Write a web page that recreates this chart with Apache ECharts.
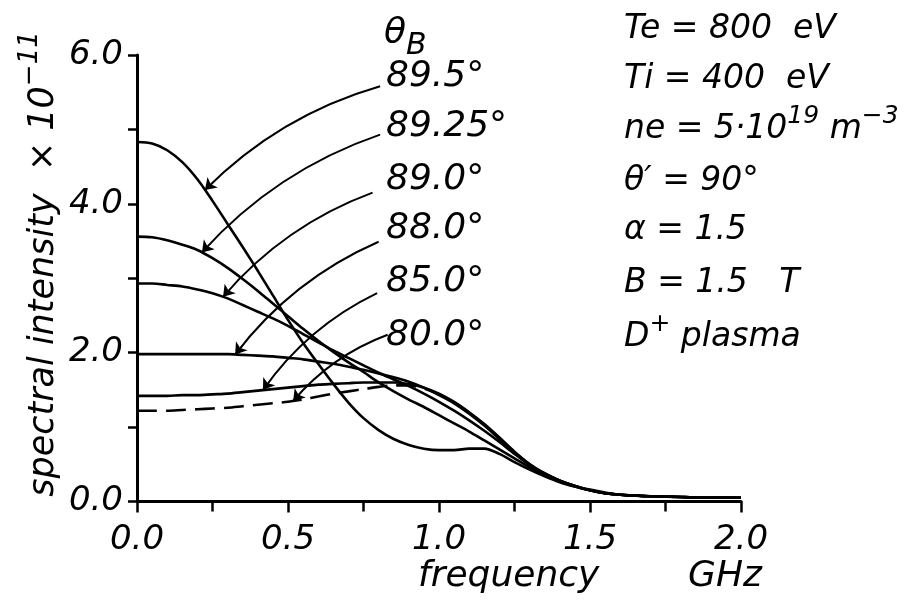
<!DOCTYPE html>
<html>
<head>
<meta charset="utf-8">
<script src="https://cdn.jsdelivr.net/npm/echarts@6/dist/echarts.min.js"></script>
<style>
  html, body { margin: 0; padding: 0; background: #fff; }
  #chart { width: 908px; height: 600px; }
</style>
</head>
<body>
<div id="chart"></div>
<script>
// Frequency grid (GHz)
const freq = [0.00, 0.05, 0.10, 0.15, 0.20, 0.25, 0.30, 0.35, 0.40, 0.45,
              0.50, 0.55, 0.60, 0.65, 0.70, 0.75, 0.80, 0.85, 0.90, 0.95,
              1.00, 1.05, 1.10, 1.15, 1.20, 1.25, 1.30, 1.35, 1.40, 1.45,
              1.50, 1.55, 1.60, 1.70, 1.80, 1.90, 2.00];

// Spectral intensity (x 10^-11) for each magnetic field angle
const theta895 = [4.83, 4.81, 4.72, 4.56, 4.33, 4.04, 3.73, 3.42, 3.10, 2.77,
                  2.44, 2.13, 1.85, 1.58, 1.33, 1.12, 0.96, 0.84, 0.76, 0.71,
                  0.69, 0.69, 0.71, 0.71, 0.64, 0.53, 0.43, 0.34, 0.26, 0.20,
                  0.15, 0.11, 0.09, 0.07, 0.06, 0.05, 0.05];
const theta8925 = [3.56, 3.55, 3.51, 3.45, 3.38, 3.27, 3.14, 2.99, 2.83, 2.66,
                   2.49, 2.32, 2.16, 2.01, 1.87, 1.74, 1.60, 1.48, 1.37, 1.27,
                   1.16, 1.05, 0.94, 0.82, 0.70, 0.58, 0.46, 0.36, 0.27, 0.20,
                   0.15, 0.11, 0.09, 0.07, 0.06, 0.05, 0.05];
const theta890 = [2.93, 2.93, 2.91, 2.89, 2.85, 2.80, 2.73, 2.64, 2.55, 2.46,
                  2.36, 2.25, 2.14, 2.03, 1.93, 1.83, 1.73, 1.64, 1.55, 1.45,
                  1.34, 1.22, 1.09, 0.95, 0.80, 0.64, 0.49, 0.37, 0.28, 0.21,
                  0.15, 0.11, 0.09, 0.07, 0.06, 0.05, 0.05];
const theta880 = [1.98, 1.98, 1.98, 1.98, 1.98, 1.98, 1.98, 1.97, 1.96, 1.95,
                  1.93, 1.91, 1.88, 1.85, 1.81, 1.77, 1.72, 1.67, 1.61, 1.53,
                  1.43, 1.32, 1.18, 1.02, 0.84, 0.66, 0.50, 0.38, 0.28, 0.21,
                  0.16, 0.12, 0.09, 0.07, 0.06, 0.05, 0.05];
const theta850 = [1.42, 1.42, 1.42, 1.43, 1.43, 1.44, 1.45, 1.47, 1.49, 1.51,
                  1.53, 1.55, 1.57, 1.58, 1.59, 1.60, 1.60, 1.60, 1.58, 1.53,
                  1.45, 1.34, 1.20, 1.04, 0.86, 0.67, 0.50, 0.37, 0.28, 0.21,
                  0.15, 0.11, 0.09, 0.07, 0.06, 0.05, 0.05];
const theta800 = [1.22, 1.22, 1.22, 1.23, 1.24, 1.25, 1.26, 1.28, 1.30, 1.32,
                  1.34, 1.37, 1.41, 1.45, 1.48, 1.51, 1.54, 1.56, 1.56, 1.52,
                  1.44, 1.33, 1.19, 1.03, 0.85, 0.66, 0.50, 0.37, 0.28, 0.21,
                  0.15, 0.11, 0.09, 0.07, 0.06, 0.05, 0.05];

const angleLabels = ['89.5°', '89.25°', '89.0°', '88.0°', '85.0°', '80.0°'];

// Leader lines: start point (data coords) and the frequency where the arrow meets its curve
const leaderFrom = [[0.805, 5.58], [0.805, 4.93], [0.78, 4.15], [0.80, 3.49], [0.795, 2.80], [0.83, 2.24]];
const leaderToFreq = [0.225, 0.215, 0.285, 0.325, 0.417, 0.517];

const FONT = 'DejaVu Sans';
const curves = [theta895, theta8925, theta890, theta880, theta850, theta800];

function interp(xs, ys, x) {
  for (let i = 0; i < xs.length - 1; i++) {
    if (x >= xs[i] && x <= xs[i + 1]) {
      const t = (x - xs[i]) / (xs[i + 1] - xs[i]);
      return ys[i] + t * (ys[i + 1] - ys[i]);
    }
  }
  return ys[ys.length - 1];
}

const series = curves.map((ys, i) => ({
  type: 'line',
  name: angleLabels[i],
  data: freq.map((f, j) => [f, ys[j]]),
  smooth: 0.3,
  showSymbol: false,
  silent: true,
  lineStyle: { color: '#000', width: 2.6, type: i === 5 ? [20, 9] : 'solid' },
  z: 3
}));

series.push({
  type: 'lines',
  coordinateSystem: 'cartesian2d',
  silent: true,
  symbol: ['none', 'arrow'],
  symbolSize: [7, 11],
  lineStyle: { color: '#000', width: 2, curveness: -0.13, opacity: 1 },
  data: leaderFrom.map((p, i) => ({
    coords: [p, [leaderToFreq[i], interp(freq, curves[i], leaderToFreq[i])]]
  })),
  z: 4
});

function makeRich(size) {
  return {
    n: { fontFamily: FONT, fontStyle: 'italic', fontSize: size, lineHeight: Math.round(size * 1.5), color: '#000' },
    p: { fontFamily: FONT, fontStyle: 'italic', fontSize: Math.round(size * 0.75), lineHeight: Math.round(size * 0.75), verticalAlign: 'top', color: '#000' },
    b: { fontFamily: FONT, fontStyle: 'italic', fontSize: Math.round(size * 0.83), lineHeight: Math.round(size * 0.83), verticalAlign: 'bottom', color: '#000' }
  };
}
const rich36 = makeRich(36);
const rich35 = makeRich(35);
const rich33 = makeRich(33);

function txt(x, y, text, rich) {
  return {
    type: 'text', x: x, y: y, silent: true,
    style: { text: text, rich: rich, align: 'left', verticalAlign: 'middle' }
  };
}

const labelY = [77, 127, 180, 229, 282, 336];
const graphics = [];
angleLabels.forEach((t, i) => graphics.push(txt(386, labelY[i], '{n|' + t + '}', rich36)));
// angle header
graphics.push(txt(384, 34, '{n|θ}{b|B}', rich36));

// plasma parameters
const params = [
  '{n|Te = 800  eV}',
  '{n|Ti = 400  eV}',
  '{n|ne = 5·10}{p|19}{n| m}{p|−3}',
  '{n|θ′ = 90°}',
  '{n|α = 1.5}',
  '{n|B = 1.5   T}',
  '{n|D}{p|+}{n| plasma}'
];
const paramY = [29, 79, 129, 181, 230, 283, 337];
params.forEach((t, i) => graphics.push(txt(624, paramY[i], t, rich33)));

// axis titles
graphics.push({
  type: 'text', x: 44, y: 264, rotation: Math.PI / 2, silent: true,
  style: { text: '{n|spectral intensity  × 10}{p|−11}', rich: rich35, align: 'center', verticalAlign: 'middle' }
});
graphics.push(txt(418, 577, '{n|frequency}', rich36));
graphics.push(txt(688, 577, '{n|GHz}', rich36));

const axisCommon = {
  type: 'value',
  axisLine: { show: true, lineStyle: { color: '#000', width: 3 } },
  splitLine: { show: false },
  axisLabel: {
    color: '#000', fontFamily: FONT, fontStyle: 'italic', fontSize: 34,
    formatter: v => v.toFixed(1)
  }
};

const chart = echarts.init(document.getElementById('chart'), null, { renderer: 'canvas' });
chart.setOption({
  backgroundColor: '#fff',
  animation: false,
  grid: { left: 137, right: 167, top: 55, bottom: 98.5, containLabel: false },
  xAxis: Object.assign({}, axisCommon, {
    min: 0, max: 2, interval: 0.5,
    axisTick: { show: true, inside: false, length: 11, lineStyle: { color: '#000', width: 2.5 } },
    minorTick: { show: true, splitNumber: 2, length: 10, lineStyle: { color: '#000', width: 2.5 } },
    axisLabel: Object.assign({}, axisCommon.axisLabel, { margin: 22 })
  }),
  yAxis: Object.assign({}, axisCommon, {
    min: 0, max: 6, interval: 2,
    axisTick: { show: true, inside: false, length: 9, lineStyle: { color: '#000', width: 2.5 } },
    minorTick: { show: true, splitNumber: 2, length: 9, lineStyle: { color: '#000', width: 2.5 } },
    axisLabel: Object.assign({}, axisCommon.axisLabel, { margin: 14 })
  }),
  series: series,
  graphic: graphics
});
</script>
</body>
</html>
